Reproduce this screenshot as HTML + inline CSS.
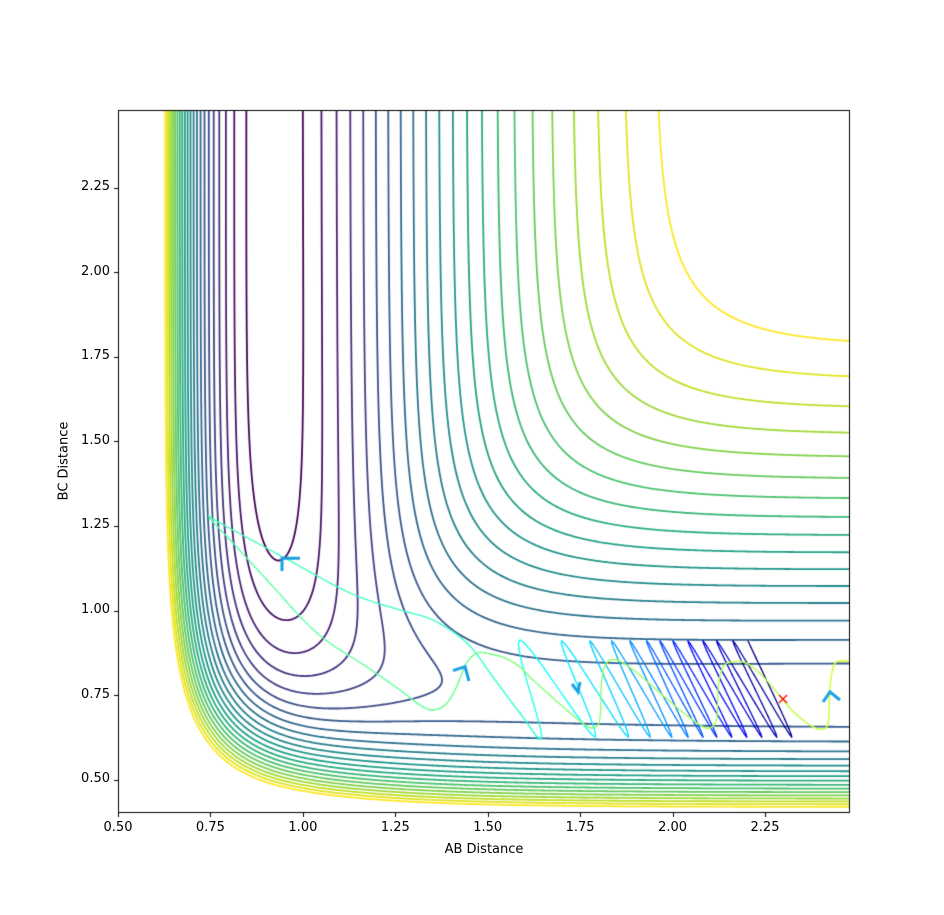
<!DOCTYPE html>
<html><head><meta charset="utf-8"><style>
body{margin:0;background:#fff;}
#w{position:relative;width:944px;height:915px;overflow:hidden;background:#fff;font-family:"DejaVu Sans","Liberation Sans",sans-serif;}
canvas{position:absolute;left:0;top:0;}
.t{position:absolute;font-size:13px;color:#000;white-space:nowrap;}
.xl{transform:translateX(-50%);top:820px;}
.yl{text-align:right;width:60px;}
</style></head><body><div id="w"><canvas id="c" width="944" height="915"></canvas>
<div class="t xl" style="left:118px">0.50</div>
<div class="t xl" style="left:210.4px">0.75</div>
<div class="t xl" style="left:302.9px">1.00</div>
<div class="t xl" style="left:395.3px">1.25</div>
<div class="t xl" style="left:487.7px">1.50</div>
<div class="t xl" style="left:580.1px">1.75</div>
<div class="t xl" style="left:672.6px">2.00</div>
<div class="t xl" style="left:765px">2.25</div>
<div class="t yl" style="left:50px;top:771px">0.50</div>
<div class="t yl" style="left:50px;top:687px">0.75</div>
<div class="t yl" style="left:50px;top:602px">1.00</div>
<div class="t yl" style="left:50px;top:517px">1.25</div>
<div class="t yl" style="left:50px;top:433px">1.50</div>
<div class="t yl" style="left:50px;top:348px">1.75</div>
<div class="t yl" style="left:50px;top:264px">2.00</div>
<div class="t yl" style="left:50px;top:179px">2.25</div>
<div class="t" style="left:484px;top:842px;transform:translateX(-50%)">AB Distance</div>
<div class="t" style="left:64px;top:461px;transform:translate(-50%,-50%) rotate(-90deg)">BC Distance</div>
</div>
<script>
var c=document.getElementById('c'),g=c.getContext('2d');
var L=118,R=850,T=110,B=813;
function px(x){return 118+(x-0.5)*369.7;}
function py(y){return 813-(y-0.402)*338.4;}
function dx(p){return 0.5+(p-118)/369.7;}
function dy(p){return 0.402+(813-p)/338.4;}
function E(D,a,r0,r,S){var e=Math.exp(-a*(r-r0));var E1=D*(e*e-2*e),E3=D/2*(e*e+2*e);
 var Q=(E1*(1+S)+E3*(1-S))/(2*(1+S)),J=(E1*(1+S)-E3*(1-S))/(2*(1+S));return [Q,J];}
var SHF=0.167,SHH=0.232;
function V(x,y){var a=E(6.12,2.2189,0.917,x,SHF),b=E(4.746,1.942,0.7414,y,SHH),cc=E(6.12,2.2189,0.917,x+y,SHF);
 var s=0.5*((a[1]-b[1])*(a[1]-b[1])+(b[1]-cc[1])*(b[1]-cc[1])+(cc[1]-a[1])*(cc[1]-a[1]));
 return a[0]+b[0]+cc[0]-Math.sqrt(Math.max(s,0));}
var vir=[[0,[68,1,84]],[.1,[72,36,117]],[.2,[65,68,135]],[.3,[53,95,141]],[.4,[42,120,142]],[.5,[33,145,140]],[.6,[34,168,132]],[.7,[68,191,112]],[.8,[122,209,81]],[.9,[189,223,38]],[1,[253,231,37]]];
function cmap(m,t){t=Math.max(0,Math.min(1,t));for(var i=0;i<m.length-1;i++){if(t<=m[i+1][0]){var f=(t-m[i][0])/(m[i+1][0]-m[i][0]);var a=m[i][1],b=m[i+1][1];return 'rgb('+Math.round(a[0]+(b[0]-a[0])*f)+','+Math.round(a[1]+(b[1]-a[1])*f)+','+Math.round(a[2]+(b[2]-a[2])*f)+')';}}var l=m[m.length-1][1];return 'rgb('+l+')';}
var NX=488,NY=469,G=[];
for(var j=0;j<=NY;j++){var row=[];var yy=dy(T+j*(B-T)/NY);for(var i=0;i<=NX;i++){row.push(V(dx(L+i*(R-L)/NX),yy));}G.push(row);}
g.save();g.beginPath();g.rect(L,T,R-L,B-T);g.clip();
g.lineWidth=1.8;g.lineCap='round';
var NL=22;
for(var k=0;k<NL;k++){var lev=(-0.9724+k*0.0372)*6.12;g.strokeStyle=cmap(vir,k/(NL-1));g.beginPath();
 for(var j=0;j<NY;j++)for(var i=0;i<NX;i++){
  var v0=G[j][i],v1=G[j][i+1],v2=G[j+1][i+1],v3=G[j+1][i];
  var x0=L+i*(R-L)/NX,x1=L+(i+1)*(R-L)/NX,y0=T+j*(B-T)/NY,y1=T+(j+1)*(B-T)/NY;
  var pts=[];
  function ed(a,b,xa,ya,xb,yb){if((a<lev)!=(b<lev)){var f=(lev-a)/(b-a);pts.push([xa+(xb-xa)*f,ya+(yb-ya)*f]);}}
  ed(v0,v1,x0,y0,x1,y0);ed(v1,v2,x1,y0,x1,y1);ed(v2,v3,x1,y1,x0,y1);ed(v3,v0,x0,y1,x0,y0);
  if(pts.length>=2){g.moveTo(pts[0][0],pts[0][1]);g.lineTo(pts[1][0],pts[1][1]);}
  if(pts.length==4){g.moveTo(pts[2][0],pts[2][1]);g.lineTo(pts[3][0],pts[3][1]);}
 }
 g.stroke();}
var zz=[[748,641],[791.7,737],[733,641],[776.7,737],[716.7,641],[761.7,737],[703,641],[746.7,737],[688,641],[731.7,737],[673,641],[716.7,737],[660,641],[703,737],[646.7,641],[688,737],[630,641],[671.7,737],[611.7,641],[650,737],[590,641],[628.3,737],[561.7,641],[595,737],[520,640],[541.7,736]];
var rest=[[520,713],[493,677],[467,643],[433,620],[400,610],[350,593],[283,557],[233,530],[213,519],[209,516],[214,523],[233,543],[267,580],[317,633],[367,667],[400,690],[420,705],[433,710],[446,704],[456,688],[466,664],[477,653],[490,654],[505,658],[520,667],[533,680],[566.7,710],[586.7,726],[595,727],[600,718],[601.7,680],[606.7,663],[616.7,660],[633.3,670],[656.7,690],[680,710],[700,725],[710,728],[716.7,718],[718.3,686.7],[723.3,666.7],[733.3,661.7],[746.7,663.3],[763.3,676.7],[781.7,698.3],[793.3,711.7],[810,725],[821.7,729.3],[828.3,722],[830,686.7],[834,665],[841,661],[852,661.7]];
var P=[],TT=[];
for(var i=0;i<zz.length;i++){P.push(zz[i]);TT.push(0.40*i/(zz.length-1));}
for(var i=0;i<rest.length;i++){P.push(rest[i]);var f=i/(rest.length-1);TT.push(f<0.33?0.42+0.06*f/0.33:0.48+0.10*(f-0.33)/0.67);}
var jet=[[0,[0,0,128]],[.125,[0,0,255]],[.375,[0,255,255]],[.625,[255,255,0]],[.875,[255,0,0]],[1,[128,0,0]]];
g.lineWidth=1.3;
for(var i=0;i<P.length-1;i++){var p0=P[Math.max(0,i-1)],p1=P[i],p2=P[i+1],p3=P[Math.min(P.length-1,i+2)];
 var prev=p1;for(var s=1;s<=10;s++){var t=s/10,t2=t*t,t3=t2*t;
  var q=[0,1].map(function(d){return 0.5*((2*p1[d])+(-p0[d]+p2[d])*t+(2*p0[d]-5*p1[d]+4*p2[d]-p3[d])*t2+(-p0[d]+3*p1[d]-3*p2[d]+p3[d])*t3);});
  g.strokeStyle=cmap(jet,TT[i]+(TT[i+1]-TT[i])*t);g.beginPath();g.moveTo(prev[0],prev[1]);g.lineTo(q[0],q[1]);g.stroke();prev=q;}}
g.strokeStyle='#1ba1e2';g.lineWidth=3;g.lineCap='butt';
[[[300,558.3],[282,558.3],[282,571]],[[453,670.7],[465,666.7],[469,681]],[[572,684],[578,692],[580,682]],[[823,702],[830,692],[840,700]]].forEach(function(a){g.beginPath();g.moveTo(a[0][0],a[0][1]);g.lineTo(a[1][0],a[1][1]);g.lineTo(a[2][0],a[2][1]);g.stroke();});
g.strokeStyle='#f00';g.lineWidth=1.3;g.beginPath();g.moveTo(779,695);g.lineTo(787,703);g.moveTo(787,695);g.lineTo(779,703);g.stroke();
g.restore();
g.strokeStyle='#000';g.lineWidth=1;g.strokeRect(118.5,110.5,731,702);
g.beginPath();
for(var v=0.5;v<2.3;v+=0.25){var X=Math.round(px(v))+0.5;g.moveTo(X,813);g.lineTo(X,817);var Y=Math.round(py(v))+0.5;g.moveTo(118,Y);g.lineTo(114,Y);}
g.stroke();
</script></body></html>
